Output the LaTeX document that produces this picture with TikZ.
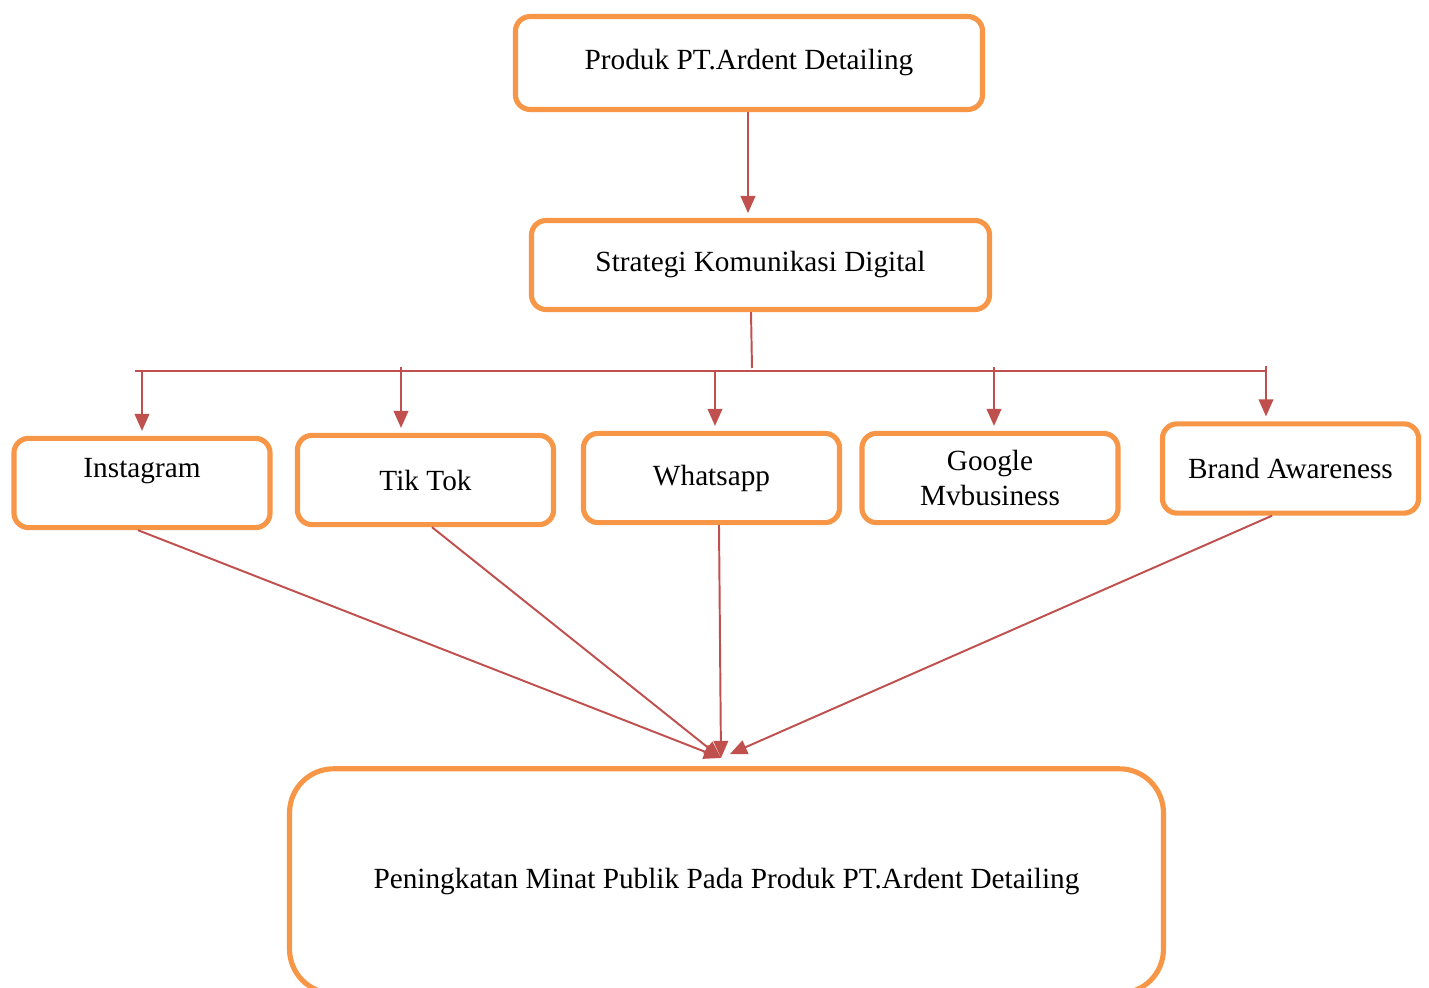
\documentclass[tikz,border=0pt]{standalone}
\usepackage{fontspec}
\setmainfont{Liberation Serif}
\usetikzlibrary{arrows.meta}
\definecolor{boxorange}{HTML}{F79646}
\definecolor{linered}{HTML}{C0504D}

\begin{document}
\begin{tikzpicture}[
		x=0.41pt, y=-0.41pt,
		box/.style={rectangle,draw=boxorange,line width=2.1pt,rounded corners=6pt,
			align=center,font=\fontsize{12}{14}\selectfont,inner sep=0pt},
		small/.style={box,minimum width=105pt,minimum height=36.6pt},
		link/.style={draw=linered,line width=0.8pt},
		arr/.style={link,-{Triangle[length=7pt,width=6pt]}}]
		\clip (0,0) rectangle (1429,988);
		\node[box,minimum width=191.5pt,minimum height=38.1pt] (produk) at (749,63) {Produk PT.Ardent Detailing};
		\node[box,minimum width=187.8pt,minimum height=36.5pt] (strategi) at (760.5,265) {Strategi Komunikasi Digital};
		\node[small,text depth=12pt] (insta) at (142,483) {Instagram};
		\node[small] (tiktok) at (425.5,480) {Tik Tok};
		\node[small] (wa) at (711.5,478) {Whatsapp};
		\node[small] (gmb) at (990,478) {Google\\Mvbusiness};
		\node[box,minimum width=105pt,minimum height=36.6pt] (brand) at (1290.5,468.5) {Brand Awareness};
		\node[box,rounded corners=18pt,minimum width=358.3pt,minimum height=92pt] (minat) at (726.5,881) {Peningkatan Minat Publik Pada Produk PT.Ardent Detailing};
		\coordinate (busL) at (135,371);
		\coordinate (busR) at (1266,371);
		\coordinate (busM) at (752,368);
		\coordinate (hub) at (721,758);
		\draw[arr,shorten >=2pt] (produk.south -| 748,0) -- (strategi.north -| 748,0);
		\draw[link] (strategi.south -| 751,0) -- (busM);
		\draw[link] (busL) -- (busR);
		\foreach \n/\x/\t in {insta/142/371, tiktok/401/367, wa/715/371, gmb/994/367, brand/1266/366}
			\draw[arr,shorten >=2pt] (\x,\t) -- (\n.north -| \x,0);
		\draw[arr] (insta.south -| 138,0) -- (hub);
		\draw[arr] (tiktok.south -| 432,0) -- (hub);
		\draw[arr] (wa.south -| 719,0) -- (hub);
		\draw[arr,shorten >=4pt] (brand.south -| 1272,0) -- (hub);
\end{tikzpicture}
\end{document}
